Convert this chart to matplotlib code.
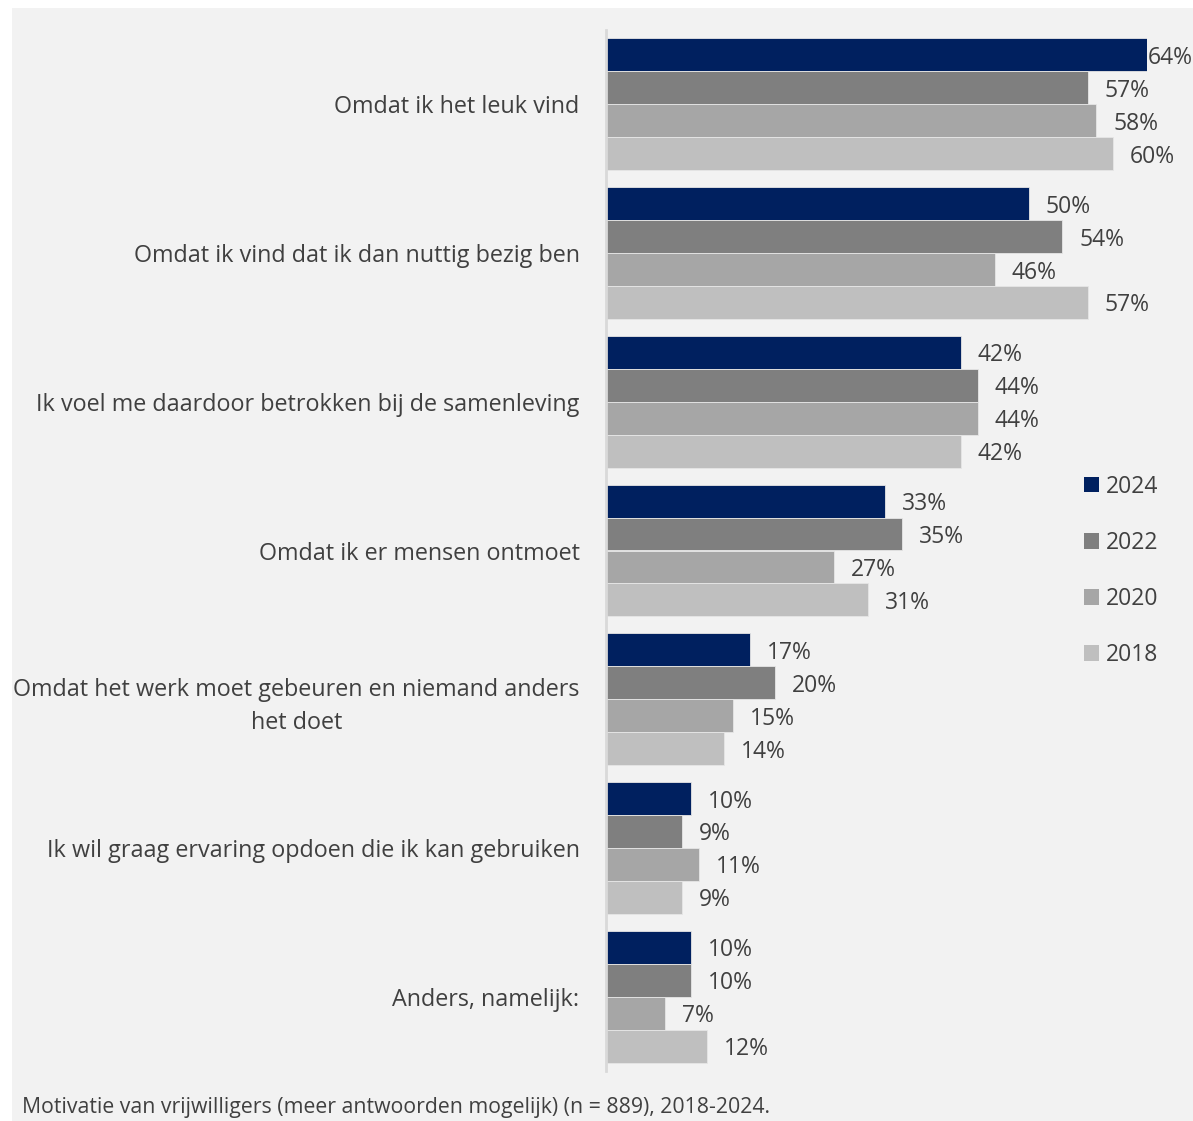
import matplotlib
matplotlib.use("Agg")
import matplotlib.pyplot as plt
from matplotlib.patches import Rectangle, Patch
import numpy as np

categories = [
    "Omdat ik het leuk vind",
    "Omdat ik vind dat ik dan nuttig bezig ben",
    "Ik voel me daardoor betrokken bij de samenleving",
    "Omdat ik er mensen ontmoet",
    "Omdat het werk moet gebeuren en niemand anders\nhet doet",
    "Ik wil graag ervaring opdoen die ik kan gebruiken",
    "Anders, namelijk:",
]
years = ["2024", "2022", "2020", "2018"]
v2024 = [64, 50, 42, 33, 17, 10, 10]
v2022 = [57, 54, 44, 35, 20, 9, 10]
v2020 = [58, 46, 44, 27, 15, 11, 7]
v2018 = [60, 57, 42, 31, 14, 9, 12]
series = [v2024, v2022, v2020, v2018]
colors = ["#00205F", "#7F7F7F", "#A6A6A6", "#BFBFBF"]
caption = "Motivatie van vrijwilligers (meer antwoorden mogelijk) (n = 889), 2018-2024."

W, H = 1193, 1121
fig = plt.figure(figsize=(W / 100, H / 100), dpi=100)
fig.patch.set_facecolor("white")
bg = Rectangle((12 / W, 0), 1.0, 1 - 8 / H, transform=fig.transFigure,
               facecolor="#F2F2F2", edgecolor="none", zorder=-10)
fig.add_artist(bg)

textc = "#404040"
font = "Open Sans"

left, right = 606 / W, 1147 / W
top, bottom = 1 - 30 / H, 1 - 1071 / H
ax = fig.add_axes([left, bottom, right - left, top - bottom])
ax.set_facecolor("none")
ax.set_zorder(5)

h = 33 / 149
y = np.arange(len(categories))
for k, (vals, c) in enumerate(zip(series, colors)):
    yy = y + (k - 1.5) * h
    ax.barh(yy, vals, height=h, color=c, edgecolor="#E6E6E6", linewidth=0.6, zorder=2)
    for yi, v in zip(yy, vals):
        ax.text(min(v + 2.0, 64.1), yi, f"{v}%", va="center_baseline", ha="left",
                fontsize=16.5, color=textc, family=font, clip_on=False)

ax.set_xlim(0, 64)
ax.set_ylim(6.5, -0.5)
ax.set_xticks([])
ax.set_yticks(y)
ax.set_yticklabels(categories, fontsize=16.8, color=textc, family=font, ha="right",
                   multialignment="center", linespacing=1.5)
ax.tick_params(axis="y", length=0, pad=19)
for s in ["top", "right", "bottom"]:
    ax.spines[s].set_visible(False)
ax.spines["left"].set_color("#D9D9D9")
ax.spines["left"].set_linewidth(2)

handles = [Patch(facecolor=c, edgecolor="none") for c in colors]
leg = fig.legend(handles, years, loc="upper left", bbox_to_anchor=(1063 / W, 1 - 454 / H),
                 frameon=False, prop={"family": font, "size": 16.5}, labelcolor=textc,
                 handlelength=0.68, handleheight=0.68, handletextpad=0.3, labelspacing=1.4)

fig.text(22 / W, 1 - 1107 / H, caption, fontsize=15.3, color=textc, family=font,
         va="center", ha="left")

fig.savefig("out.png", dpi=100, facecolor=fig.get_facecolor())
